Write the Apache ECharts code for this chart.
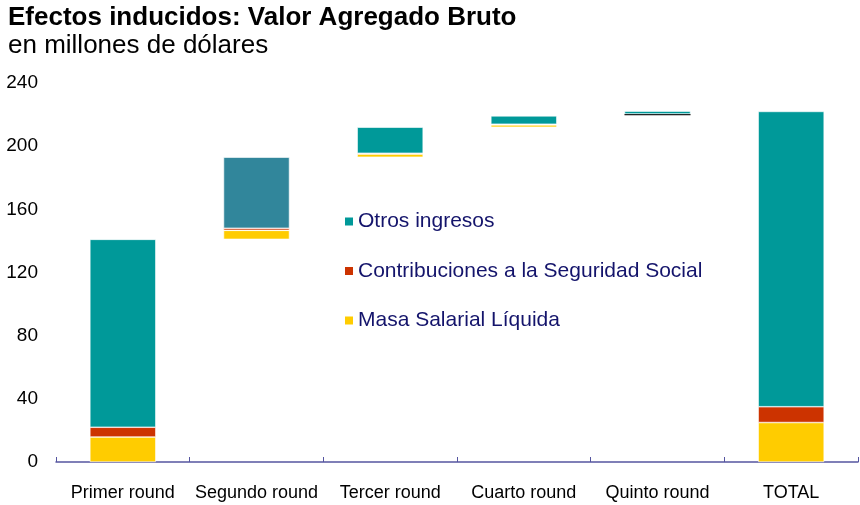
<!DOCTYPE html>
<html>
<head>
<meta charset="utf-8">
<script src="https://cdn.jsdelivr.net/npm/echarts@6/dist/echarts.min.js"></script>
<style>
    html, body { margin: 0; padding: 0; background: #fff; }
    #chart { width: 860px; height: 505px; }
</style>
</head>
<body>
<div id="chart"></div>
<script>
    // categorías y valores (millones de dólares)
    var categories = ['Primer round', 'Segundo round', 'Tercer round', 'Cuarto round', 'Quinto round', 'TOTAL'];
    var base = [0, 141, 193, 212, 219.2, 0];
    var masaSalarial = [15.8, 5.7, 2.0, 1.5, 0.3, 25];
    var contribuciones = [6.2, 1.3, 0.5, 0.4, 0.9, 10];
    var otrosIngresos = [119, 45, 16.5, 5.3, 1.8, 187];
    var yTicks = [0, 40, 80, 120, 160, 200, 240];

    var chart = echarts.init(document.getElementById('chart'));

    var segStyle = { borderColor: '#fff', borderWidth: 0.6 };

    var option = {
        animation: false,
        textStyle: { fontFamily: 'Liberation Sans, Arial, sans-serif' },
        title: [
            {
                text: 'Efectos inducidos: Valor Agregado Bruto',
                left: 3, top: 0,
                textStyle: { fontSize: 26, fontWeight: 'bold', color: '#000' }
            },
            {
                text: 'en millones de dólares',
                left: 3, top: 28,
                textStyle: { fontSize: 26, fontWeight: 'normal', color: '#000' }
            }
        ],
        legend: {
            orient: 'vertical',
            left: 338, top: 206,
            itemGap: 28.5,
            itemWidth: 10, itemHeight: 10,
            icon: 'rect',
            data: ['Otros ingresos', 'Contribuciones a la Seguridad Social', 'Masa Salarial Líquida'],
            textStyle: { fontSize: 21, color: '#14146b', padding: [0, 0, 0, -1] }
        },
        grid: { left: 56, right: 2, top: 83, bottom: 43 },
        xAxis: {
            type: 'category',
            data: categories,
            axisLine: { lineStyle: { color: '#5555a0', width: 1.5 } },
            axisTick: { show: true, inside: true, length: 5, interval: 0, lineStyle: { color: '#5555a0' } },
            axisLabel: { fontSize: 18, color: '#000', margin: 22, interval: 0 }
        },
        yAxis: {
            type: 'value',
            min: yTicks[0],
            max: yTicks[yTicks.length - 1],
            interval: 40,
            axisLine: { show: false },
            axisTick: { show: false },
            splitLine: { show: false },
            axisLabel: { fontSize: 19, color: '#000', margin: 18 }
        },
        series: [
            {
                name: 'base',
                type: 'bar',
                stack: 'vab',
                barWidth: 66,
                itemStyle: { color: 'transparent' },
                data: base
            },
            {
                name: 'Masa Salarial Líquida',
                type: 'bar',
                stack: 'vab',
                itemStyle: Object.assign({ color: '#ffcc00' }, segStyle),
                data: masaSalarial
            },
            {
                name: 'Contribuciones a la Seguridad Social',
                type: 'bar',
                stack: 'vab',
                itemStyle: Object.assign({ color: '#cc3300' }, segStyle),
                data: contribuciones.map(function (v, i) {
                    return i === 4 ? { value: v, itemStyle: { color: '#111', borderWidth: 0 } } : v;
                })
            },
            {
                name: 'Otros ingresos',
                type: 'bar',
                stack: 'vab',
                itemStyle: Object.assign({ color: '#009999' }, segStyle),
                data: otrosIngresos.map(function (v, i) {
                    return i === 1 ? { value: v, itemStyle: { color: '#31869b' } } : v;
                })
            }
        ]
    };

    chart.setOption(option);
</script>
</body>
</html>
